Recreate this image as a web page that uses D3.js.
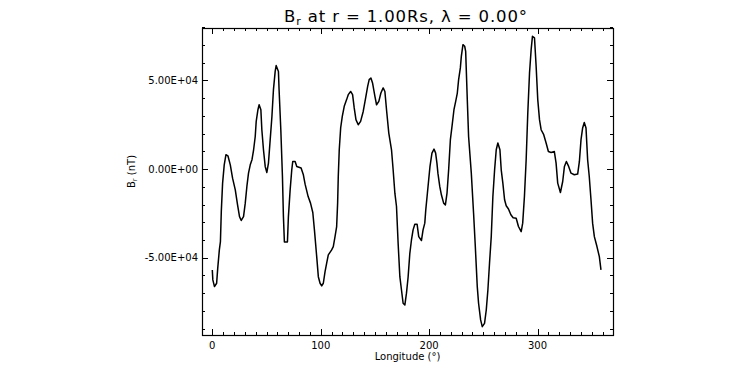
<!DOCTYPE html>
<html><head><meta charset="utf-8">
<script src="https://cdn.jsdelivr.net/npm/d3@7"></script>
<style>body{margin:0;background:#fff}svg{display:block}text{font-family:"DejaVu Sans",sans-serif;fill:#000}</style>
</head><body>
<svg id="c" width="750" height="375"></svg>
<script>
const longitude = [0,0.5,2,4,5,6.5,7.5,8.3,9.5,11,12.6,14.4,16.6,18.7,21.2,23.3,25.1,26.7,28.8,30.4,31.9,33.4,35,36.6,38.1,39.6,40.5,42.1,43.2,44.8,45.7,47.2,48.8,50.3,51.8,53.4,55,56.4,58,58.9,61,61.6,63.2,64.7,65.6,66.5,69.3,70.2,71.8,73.3,74.2,76.4,77.9,81.9,84,85.6,88.4,90.6,92.7,94.3,96.3,97.8,99.4,100.9,102.4,104,105.5,107,110.1,111.6,113.2,114.7,115.6,116.2,117.1,118.4,119.9,121.7,123.9,125.4,127.6,129.4,130.9,132.5,134.6,136.8,139.2,141.4,143.3,144.7,146.3,147.8,150,151.5,153.6,155.5,157.6,159.2,160.7,162.8,165.3,166.8,168.4,169.9,171.4,173,174.5,176,177.6,179.1,180.6,182.2,183.7,185.2,186.8,188.9,190.4,192.9,194.4,196,196.9,198.4,199.6,200.8,202.6,204.5,206,207.2,208.1,209.8,211.3,213.4,215,216.5,218,219.6,221.1,222.9,224.5,226,227.2,228.8,229.7,231.2,232.8,233.7,235.2,236.4,238.9,241,242.6,244.4,245.6,247.5,249,251.1,252.7,254.2,255.7,257.3,258.8,260.4,261.9,263.4,265.3,266.5,268,269.6,271.1,273.2,275.4,277.5,280.3,282.4,284.9,286.3,287.9,289.5,291,292.6,294.1,295.3,297.2,298.7,300.2,301.8,303.3,305.7,307.9,310,312.5,315.5,317.1,318.6,321.1,323.2,324.8,326.6,328.7,330.9,333.9,337,338.6,340.1,341.6,343.1,344.7,346.2,347.7,349.3,350.8,352.4,354.8,357,358.5];
const brValues = [-56900,-62500,-66300,-64400,-56000,-45600,-40900,-24000,-7900,2400,8100,7500,2400,-5100,-11700,-20200,-26800,-29000,-26800,-19200,-9800,-2300,2400,5300,10900,18400,26900,33500,36300,33500,22200,10900,1500,-1900,3400,16600,29700,44800,55100,58400,55100,44800,22200,-4200,-26800,-41100,-41100,-26800,-11700,-400,4300,4300,1500,600,-3200,-8500,-15500,-19200,-24500,-35000,-49400,-60700,-64400,-65900,-64400,-57900,-53100,-48400,-45600,-43700,-38100,-32400,-19200,-4200,10900,23200,29700,35400,39200,42000,43800,42000,34500,27900,25000,26900,32500,40100,46700,50500,51400,48600,41000,36300,38200,42900,45800,43800,33500,20300,10900,-400,-13600,-21100,-41800,-60700,-68200,-75700,-76700,-70000,-61000,-47500,-40000,-34300,-31100,-31100,-38100,-40300,-34300,-30500,-23000,-13600,-6000,1500,9000,11300,9000,3400,-2300,-9800,-14500,-19200,-20200,-13600,-400,16600,24100,33500,38200,42900,50500,57100,63600,70200,69300,66400,39200,18400,-2300,-24900,-43700,-66300,-75700,-85100,-88900,-87000,-79500,-68200,-53100,-38100,-15500,-400,10900,14700,10900,-400,-7900,-17300,-20700,-22500,-25800,-27400,-27700,-32400,-35300,-30500,-15500,5300,31600,54200,67400,74900,74000,58000,39200,27900,22200,19400,14700,9900,9400,9900,3400,-7900,-13200,-7000,1500,4300,1500,-2300,-3200,-2800,4300,16600,23200,26300,23200,5300,-4200,-17300,-30500,-38100,-43700,-49400,-56900];
const xMajorTicks = [0,100,200,300];
const yMajorTicks = [-50000,0,50000];
const yTickLabels = ["-5.00E+04","0.00E+00","5.00E+04"];
const xDomain = [-9.5, 369.6];
const yDomain = [-93600, 79600];

const svg = d3.select("#c");
const L=202, R=613, T=28, B=335;
const x = d3.scaleLinear().domain(xDomain).range([L,R]);
const y = d3.scaleLinear().domain(yDomain).range([B,T]);

const xMinor = d3.range(0, 361, 10);
const yMinor = d3.range(-90000, 80001, 10000);

function tickAxes(){
  const g = svg.append("g").attr("stroke","#000").attr("stroke-width",1).attr("shape-rendering","crispEdges");
  // bottom/top
  const bx = d3.axisBottom(x).tickValues(xMinor).tickFormat("").tickSizeInner(-3).tickSizeOuter(0);
  g.append("g").attr("transform",`translate(0,${B})`).call(bx);
  g.append("g").attr("transform",`translate(0,${B})`).call(d3.axisBottom(x).tickValues(xMajorTicks).tickFormat("").tickSizeInner(-6).tickSizeOuter(0));
  g.append("g").attr("transform",`translate(0,${T})`).call(d3.axisTop(x).tickValues(xMinor).tickFormat("").tickSizeInner(-3).tickSizeOuter(0));
  g.append("g").attr("transform",`translate(0,${T})`).call(d3.axisTop(x).tickValues(xMajorTicks).tickFormat("").tickSizeInner(-6).tickSizeOuter(0));
  g.append("g").attr("transform",`translate(${L},0)`).call(d3.axisLeft(y).tickValues(yMinor).tickFormat("").tickSizeInner(-3).tickSizeOuter(0));
  g.append("g").attr("transform",`translate(${L},0)`).call(d3.axisLeft(y).tickValues(yMajorTicks).tickFormat("").tickSizeInner(-6).tickSizeOuter(0));
  g.append("g").attr("transform",`translate(${R},0)`).call(d3.axisRight(y).tickValues(yMinor).tickFormat("").tickSizeInner(-3).tickSizeOuter(0));
  g.append("g").attr("transform",`translate(${R},0)`).call(d3.axisRight(y).tickValues(yMajorTicks).tickFormat("").tickSizeInner(-6).tickSizeOuter(0));
  g.selectAll(".domain").remove();
  g.selectAll("line").attr("stroke","#000");
}
tickAxes();

svg.append("rect").attr("x",L+0.5).attr("y",T+0.5).attr("width",R-L).attr("height",B-T)
  .attr("fill","none").attr("stroke","#000").attr("stroke-width",1.2);

// tick labels
svg.append("g").selectAll("text").data(xMajorTicks).join("text")
  .attr("x",d=>x(d)).attr("y",348.5).attr("text-anchor","middle").attr("font-size",10).text(d=>d);
svg.append("g").selectAll("text").data(yMajorTicks).join("text")
  .attr("x",198).attr("y",d=>y(d)+3.6).attr("text-anchor","end").attr("font-size",10)
  .text((d,i)=>yTickLabels[i]);

// axis titles
svg.append("text").attr("x",407.5).attr("y",359.5).attr("text-anchor","middle").attr("font-size",10).text("Longitude (°)");
const yl = svg.append("text").attr("transform","translate(135,171.5) rotate(-90)").attr("text-anchor","middle").attr("font-size",10);
yl.append("tspan").text("B");
yl.append("tspan").attr("font-size",7).attr("dy",2).text("r");
yl.append("tspan").attr("dy",-2).text(" (nT)");

// title
const tt = svg.append("text").attr("x",284).attr("y",22).attr("font-size",16.5)
  .attr("textLength",243).attr("lengthAdjust","spacing");
tt.append("tspan").text("B");
tt.append("tspan").attr("font-size",11).attr("dy",3).text("r");
tt.append("tspan").attr("dy",-3).text(" at r = 1.00Rs, λ = 0.00°");

// line
const pts = longitude.map((d,i)=>[d,brValues[i]]);
svg.append("path").datum(pts)
  .attr("fill","none").attr("stroke","#000").attr("stroke-width",1.5).attr("stroke-linejoin","round")
  .attr("d", d3.line().x(d=>x(d[0])).y(d=>y(d[1])));
</script>
</body></html>
